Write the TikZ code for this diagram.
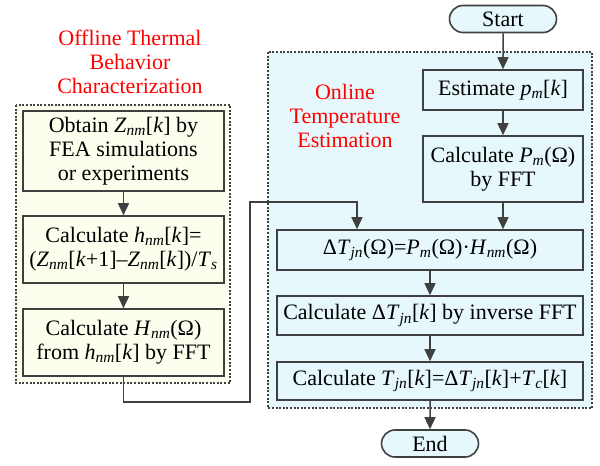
\documentclass[tikz,border=0pt]{standalone}
\usepackage{fontspec}
\setmainfont{Liberation Serif}
\usetikzlibrary{arrows.meta,shapes.misc}

\definecolor{lijn}{HTML}{404040}
\definecolor{geel}{HTML}{FEFEEE}
\definecolor{blauw}{HTML}{E6F8FB}
\newcommand{\ix}[1]{\textsubscript{\textit{#1}}}

\begin{document}
\begin{tikzpicture}[x=1pt, y=-1pt,
		every node/.style={font=\fontsize{22}{24}\selectfont, align=center, inner sep=0pt},
		stap/.style={draw=lijn, line width=1.6pt, fill=#1, minimum width=160pt},
		stap/.default=blauw,
		eind/.style={draw=lijn, line width=1.6pt, fill=blauw, rounded rectangle, minimum height=27pt},
		gebied/.style={draw=lijn, line width=1.5pt, dash pattern=on 2pt off 1.6pt, fill=#1},
		titel/.style={text=red},
		flow/.style={draw=lijn, line width=1.5pt, -{Triangle[length=12pt,width=11pt]}}]
	% canvas
	\useasboundingbox (0,0) rectangle (600,466);

	% --- gebieden (gestippeld) ---
	\path[gebied=geel] (16,105) rectangle (230,383);
	\path[gebied=blauw] (268,52) rectangle (592,408);

	% titels
	\node[titel] (offtitel) at (130,62) {Offline Thermal\\Behavior\\Characterization};
	\node[titel] (ontitel) at (345,116) {Online\\Temperature\\Estimation};

	% --- offline stappen ---
	\node[stap=geel, minimum width=201pt, minimum height=80pt] (obtain) at (123.5,151)
		{Obtain \textit{Z}\ix{nm}[\textit{k}] by\\FEA simulations\\or experiments};
	\node[stap=geel, minimum width=201pt, minimum height=67pt] (hcalc) at (123.5,249.5)
		{Calculate \textit{h}\ix{nm}[\textit{k}]=\\(\textit{Z}\ix{nm}[\textit{k}+1]–\textit{Z}\ix{nm}[\textit{k}])/\textit{T}\ix{s}};
	\node[stap=geel, minimum width=201pt, minimum height=67pt] (Hcalc) at (123.5,342.5)
		{Calculate \textit{H}\ix{nm}(Ω)\\from \textit{h}\ix{nm}[\textit{k}] by FFT};

	% --- online stappen ---
	\node[eind, minimum width=107pt] (start) at (503,19) {Start};
	\node[stap, minimum height=40pt] (est) at (503,90) {Estimate \textit{p}\ix{m}[\textit{k}]};
	\node[stap, minimum height=66pt] (calcP) at (503,169) {Calculate \textit{P}\ix{m}(Ω)\\by FFT};
	\node[stap, minimum width=306pt, minimum height=40pt] (dT) at (430,250)
		{Δ\textit{T}\ix{jn}(Ω)=\textit{P}\ix{m}(Ω)·\textit{H}\ix{nm}(Ω)};
	\node[stap, minimum width=306pt, minimum height=39pt] (ifft) at (430,315.5)
		{Calculate Δ\textit{T}\ix{jn}[\textit{k}] by inverse FFT};
	\node[stap, minimum width=306pt, minimum height=38pt] (Tjn) at (430,381)
		{Calculate \textit{T}\ix{jn}[\textit{k}]=Δ\textit{T}\ix{jn}[\textit{k}]+\textit{T}\ix{c}[\textit{k}]};
	\node[eind, minimum width=97pt] (end) at (430,443.5) {End};

	% --- pijlen ---
	\draw[flow] (obtain) -- (hcalc);
	\draw[flow] (hcalc) -- (Hcalc);
	\draw[flow] (start) -- (est);
	\draw[flow] (est) -- (calcP);
	\draw[flow] (calcP.south) -- (calcP.south |- dT.north);
	\draw[flow] (dT) -- (ifft);
	\draw[flow] (ifft) -- (Tjn);
	\draw[flow] (Tjn) -- (end);

	% verbinding offline -> online
	\coordinate (hoek) at (357,202);
	\draw[flow] (Hcalc.south) |- (250,402) |- (hoek) -- (hoek |- dT.north);
\end{tikzpicture}
\end{document}
